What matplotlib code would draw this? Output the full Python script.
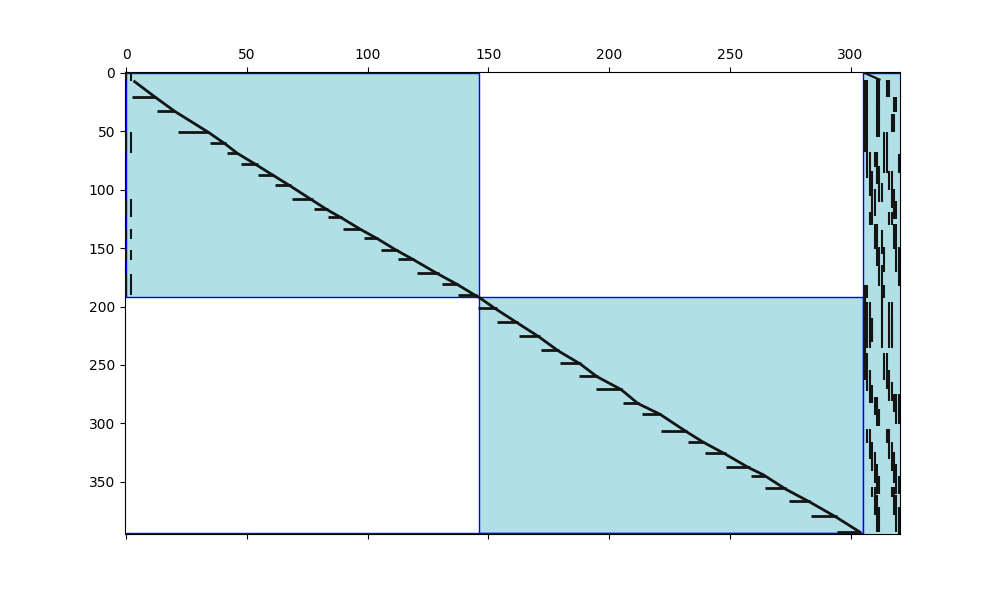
import numpy as np
import matplotlib
matplotlib.use("Agg")
import matplotlib.pyplot as plt
from matplotlib.patches import Rectangle

# ---------------- data ----------------
n_rows = 395
n_cols = 321

# shaded blocks: column start, row start, width, height
block_col0 = [0, 146, 305, 0]
block_row0 = [0, 192, 0, 394]
block_w = [146, 159, 16, 305]
block_h = [192, 202, 395, 1]

# main diagonal band (knots: row, col)
diag_rows = [7, 21, 33, 51, 61, 69, 79, 88, 97, 109, 117, 124, 134, 142, 152, 160,
             172, 181, 191, 192, 202, 214, 226, 238, 249, 260, 271, 283, 292, 307,
             316, 326, 338, 344, 356, 367, 380, 393]
diag_cols = [3, 12, 20, 34, 41, 46, 54, 61, 68, 77, 83, 89, 97, 104, 112, 119,
             129, 137, 145, 146, 153, 162, 171, 179, 188, 195, 205, 212, 221, 232,
             239, 248, 258, 264, 273, 283, 294, 304]

# short corner diagonal in the coupling columns (knots: row, col)
corner_rows = [0, 6]
corner_cols = [305.5, 312]

# horizontal runs (two rows thick): first row, first col, last col
arrow_rows = [20, 32, 50, 60, 68, 78, 87, 96, 108, 116, 123, 133, 141, 151, 159, 171, 180, 190,
              201, 213, 225, 237, 248, 259, 270, 282, 291, 306, 315, 325, 337, 344, 355, 366, 379, 392]
arrow_c0 = [3, 13, 22, 35, 42, 48, 55, 62, 69, 78, 84, 90, 99, 106, 113, 121, 131, 138,
            146, 154, 163, 172, 180, 188, 195, 206, 214, 222, 233, 240, 249, 259, 265, 275, 284, 295]
arrow_c1 = [12, 20, 34, 41, 46, 54, 61, 68, 77, 83, 89, 97, 104, 112, 119, 129, 137, 145,
            153, 162, 171, 179, 188, 195, 205, 212, 221, 232, 239, 248, 258, 264, 273, 283, 294, 304]

# vertical runs in the first columns: column, first row, last row
left_cols = [0, 2, 0, 2, 0, 2, 0, 2, 0, 2, 0, 2, 1]
left_r0 = [0, 0, 51, 51, 109, 109, 134, 134, 152, 152, 173, 173, 394]
left_r1 = [7, 7, 68, 68, 123, 123, 142, 142, 160, 160, 190, 190, 394]

# vertical runs in the coupling columns: column, first row, last row
cpl_cols = [306, 307, 306, 307, 311, 312, 311, 312, 315, 316, 318, 319, 317, 318, 314, 315,
            306, 307, 307, 308, 308, 309, 309, 310, 310, 311, 311, 312, 312, 313,
            314, 315, 316, 317, 317, 318, 318, 319, 320,
            308, 309, 310, 311, 311, 312, 312, 313, 316, 317, 318, 319, 319, 320, 320, 313, 314,
            306, 307, 313, 314, 306, 307, 308, 309, 309, 313, 316, 317, 317,
            306, 307, 314, 315, 306, 307, 307, 308, 308, 309, 310, 311, 311, 312,
            314, 315, 315, 316, 316, 317, 318, 319, 319, 320,
            307, 308, 315, 316, 308, 309, 309, 310, 310, 311, 311, 312,
            316, 317, 317, 318, 318, 319, 319, 320,
            309, 310, 317, 318, 310, 311, 311, 312, 318, 319, 319, 320, 320]
cpl_r0 = [7, 7, 28, 28, 6, 6, 28, 28, 7, 7, 21, 21, 36, 36, 51, 51,
          60, 60, 68, 68, 85, 85, 100, 100, 68, 68, 80, 80, 95, 95,
          65, 65, 85, 85, 100, 100, 110, 110, 70,
          120, 120, 130, 130, 150, 150, 165, 165, 120, 120, 130, 130, 150, 150, 165, 135, 150,
          182, 182, 182, 182, 192, 197, 197, 210, 210, 192, 197, 197, 210,
          240, 240, 240, 240, 248, 248, 255, 255, 268, 268, 278, 278, 288, 288,
          248, 248, 255, 255, 265, 265, 275, 275, 285, 275,
          305, 305, 305, 305, 316, 316, 325, 325, 335, 335, 345, 345,
          316, 316, 325, 325, 335, 335, 345, 345,
          355, 355, 355, 355, 362, 362, 372, 372, 362, 362, 372, 372, 380]
cpl_r1 = [28, 28, 60, 60, 28, 28, 55, 55, 20, 20, 33, 33, 50, 50, 65, 65,
          67, 67, 90, 90, 105, 105, 122, 122, 80, 80, 95, 95, 110, 110,
          85, 85, 100, 100, 115, 115, 125, 125, 85,
          130, 130, 150, 150, 165, 165, 182, 182, 130, 130, 150, 150, 170, 170, 182, 155, 170,
          192, 192, 192, 192, 240, 235, 235, 230, 230, 235, 235, 235, 230,
          248, 248, 248, 248, 262, 262, 272, 272, 282, 282, 292, 292, 302, 302,
          262, 262, 270, 270, 280, 280, 290, 290, 300, 300,
          316, 316, 316, 316, 330, 330, 340, 340, 350, 350, 360, 360,
          330, 330, 340, 340, 350, 350, 360, 360,
          362, 362, 362, 362, 378, 378, 392, 392, 378, 378, 392, 392, 394]

# ticks
xticks = [0, 50, 100, 150, 200, 250, 300]
yticks = [0, 50, 100, 150, 200, 250, 300, 350]

# ---------------- drawing ----------------
fig, ax = plt.subplots(figsize=(10, 6), dpi=100)

for c0, r0, w, h in zip(block_col0, block_row0, block_w, block_h):
    ax.add_patch(Rectangle((c0, r0), w, h, facecolor="#B0E0E6",
                           edgecolor="blue", linewidth=1.0, zorder=1))

mark = "#141414"
ax.plot(diag_cols, diag_rows, color=mark, lw=2.0, solid_capstyle="butt", zorder=3)
ax.plot(corner_cols, corner_rows, color=mark, lw=1.6, zorder=3)

ar = np.array(arrow_rows)
ax.hlines(ar + 0.5, np.array(arrow_c0) - 0.4, np.array(arrow_c1) + 0.4,
          colors=mark, linewidth=2.0, zorder=3)

ax.vlines(left_cols, np.array(left_r0) - 0.5, np.array(left_r1) + 0.5,
          colors=mark, linewidth=1.5, zorder=3)
ax.vlines(cpl_cols, np.array(cpl_r0) - 0.5, np.array(cpl_r1) + 0.5,
          colors=mark, linewidth=1.5, zorder=3)

ax.set_xlim(-0.5, n_cols - 0.5)
ax.set_ylim(n_rows - 0.5, -0.5)
ax.set_aspect("auto")
ax.xaxis.tick_top()
ax.xaxis.set_ticks_position("both")
ax.set_xticks(xticks)
ax.set_yticks(yticks)

fig.savefig("out.png", dpi=100)
